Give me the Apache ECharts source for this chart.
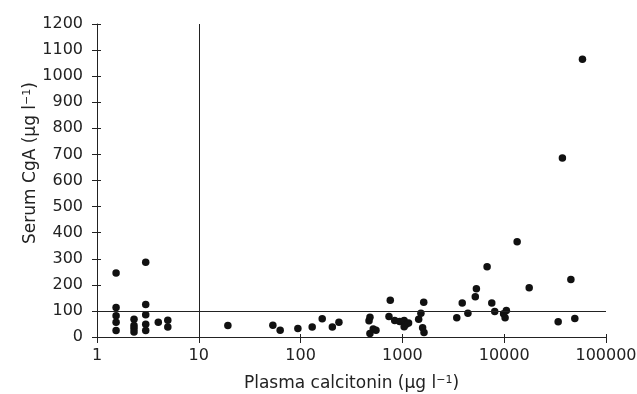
<!DOCTYPE html>
<html>
<head>
<meta charset="utf-8">
<script src="https://cdn.jsdelivr.net/npm/echarts@6/dist/echarts.min.js"></script>
<style>
  html, body { margin: 0; padding: 0; background: #fff; }
  #chart { width: 637px; height: 394px; }
</style>
</head>
<body>
<div id="chart"></div>
<script>
// plasma calcitonin (x, log scale) and serum CgA (y) for each patient
const calcitonin = [
  1.54, 1.54, 1.54, 1.54, 1.54,
  2.31, 2.31, 2.31, 2.31,
  3.01, 3.01, 3.01, 3.01, 3.01,
  4.0, 4.96, 4.96,
  19.3, 53.4, 63, 94, 130, 163, 205, 238,
  480, 470, 517, 550, 480, 760, 738, 840, 940, 1040, 1090, 1150, 1040,
  1445, 1520, 1620, 1580, 1630,
  3420, 3870, 4400, 5200, 5330, 6790, 7550, 8070, 9860, 10500, 10200,
  13400, 17600, 33900, 37300, 45200, 49400, 58700
];
const cga = [
  245, 113, 81, 57, 25,
  68, 44, 33, 19,
  287, 125, 85, 49, 25,
  57, 64, 38,
  44, 45, 26, 33, 38, 70, 38, 57,
  76, 62, 31, 26, 13, 141, 79, 63, 59, 63, 49, 54, 39,
  68, 91, 133, 35, 17,
  74, 130, 91, 154, 185, 269, 130, 98, 89, 102, 74,
  365, 189, 58, 686, 220, 71, 1065
];
// cut-off lines
const calcitoninCutoff = 10;
const cgaCutoff = 100;

const points = calcitonin.map((x, i) => [x, cga[i]]);

const ink = '#222';
const font = 'DejaVu Sans';
const supStyle = { rich: { sup: { fontSize: 11, verticalAlign: 'top', color: ink, fontFamily: font } } };

const myChart = echarts.init(document.getElementById('chart'));

const option = {
  animation: false,
  grid: {
    left: 97,
    right: 31,
    top: 24,
    bottom: 57,
    outerBoundsMode: 'none'
  },
  xAxis: [
    {
      type: 'log',
      logBase: 10,
      min: 1,
      max: 100000,
      name: 'Plasma calcitonin (μg l{sup|\u22121})',
      nameLocation: 'middle',
      nameGap: 38,
      nameMoveOverlap: false,
      nameTextStyle: Object.assign({ fontSize: 17, color: ink, fontFamily: font }, supStyle),
      axisLine: { lineStyle: { color: ink, width: 1 } },
      axisTick: { length: 6, lineStyle: { color: ink } },
      axisLabel: {
        fontSize: 16,
        color: ink,
        fontFamily: font,
        margin: 11,
        formatter: v => String(Math.round(v))
      },
      splitLine: { show: false },
      minorTick: { show: false }
    },
    {
      // second copy only to draw the inner half of the ticks
      type: 'log',
      logBase: 10,
      min: 1,
      max: 100000,
      position: 'bottom',
      axisLine: { show: false },
      axisTick: { inside: true, length: 3, lineStyle: { color: ink } },
      axisLabel: { show: false },
      splitLine: { show: false }
    }
  ],
  yAxis: [
    {
      type: 'value',
      min: 0,
      max: 1200,
      interval: 100,
      name: 'Serum CgA (μg l{sup|\u22121})',
      nameLocation: 'middle',
      nameGap: 58,
      nameMoveOverlap: false,
      nameTextStyle: Object.assign({ fontSize: 17, color: ink, fontFamily: font, padding: [0, 0, 0, 35] }, supStyle),
      axisLine: { show: true, lineStyle: { color: ink, width: 1 } },
      axisTick: { show: true, length: 5, lineStyle: { color: ink } },
      axisLabel: { fontSize: 16, color: ink, fontFamily: font, margin: 14, formatter: v => String(v) },
      splitLine: { show: false }
    },
    {
      type: 'value',
      min: 0,
      max: 1200,
      interval: 100,
      position: 'left',
      axisLine: { show: false },
      axisTick: { show: true, inside: true, length: 4, lineStyle: { color: ink } },
      axisLabel: { show: false },
      splitLine: { show: false }
    }
  ],
  series: [
    {
      type: 'scatter',
      data: points,
      symbol: 'circle',
      symbolSize: 7.5,
      itemStyle: { color: '#111', opacity: 1 },
      markLine: {
        silent: true,
        symbol: 'none',
        label: { show: false },
        lineStyle: { color: ink, width: 1, type: 'solid' },
        data: [
          { xAxis: calcitoninCutoff },
          { yAxis: cgaCutoff }
        ]
      }
    }
  ]
};
option && myChart.setOption(option);
</script>
</body>
</html>
